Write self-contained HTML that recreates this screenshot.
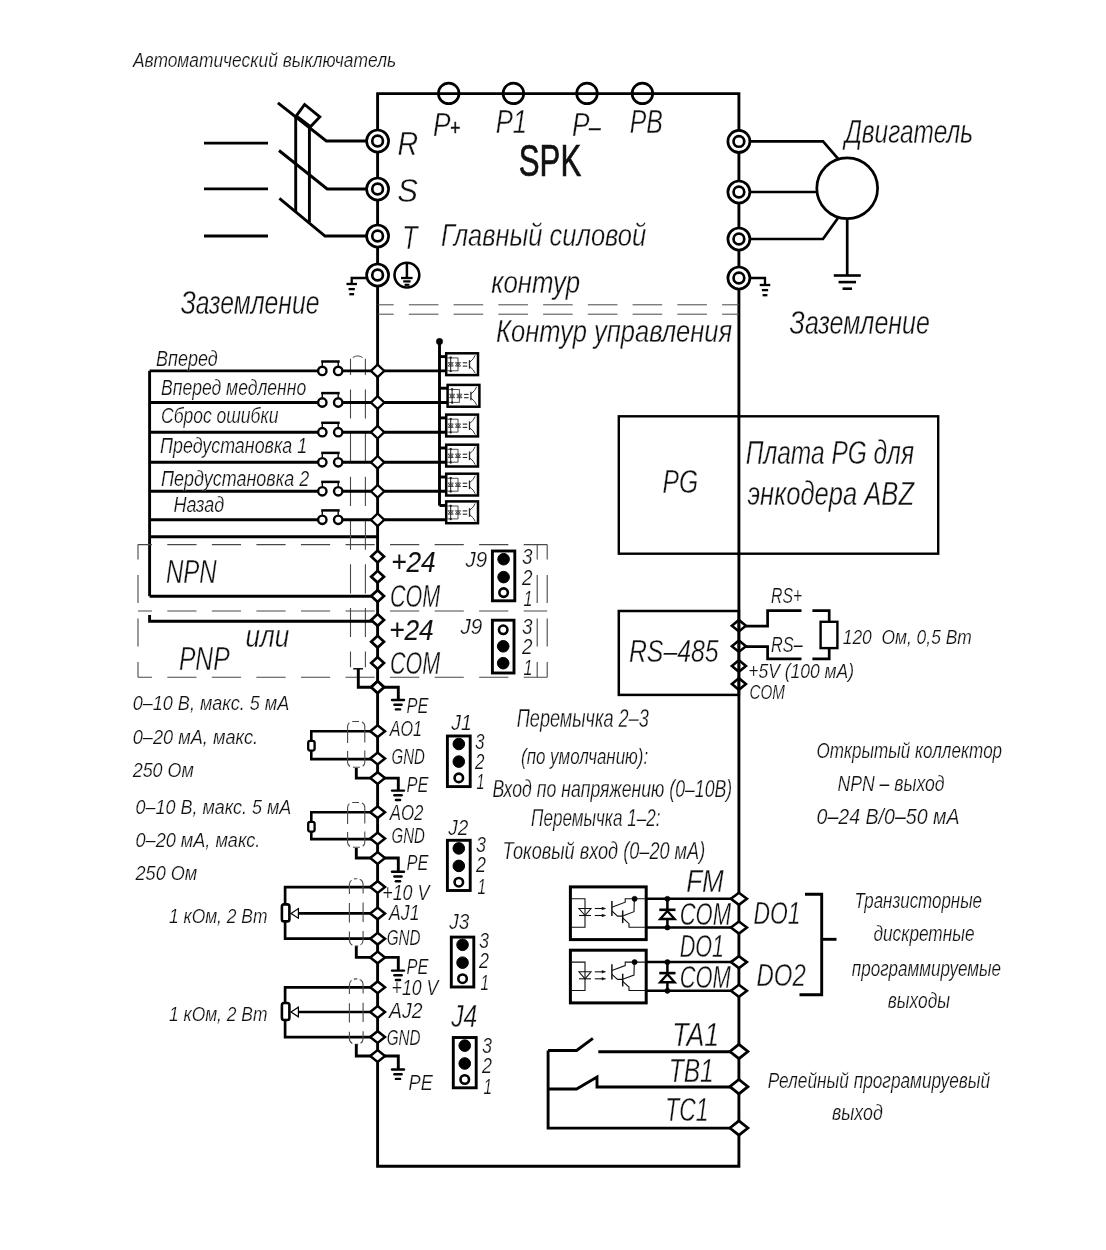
<!DOCTYPE html>
<html lang="ru"><head><meta charset="utf-8"><title>SPK</title>
<style>
html,body{margin:0;padding:0;background:#fff;}
svg{display:block;filter:grayscale(1)}
svg text{font-family:"Liberation Sans",sans-serif;font-style:italic;fill:#111;}
</style></head><body>
<svg width="1106" height="1250" viewBox="0 0 1106 1250">
<rect width="1106" height="1250" fill="#fff"/>
<polygon points="377.6,1166.2 377.6,93.6 738.9,93.6 738.9,1166.2" fill="none" stroke="#000" stroke-width="2.9" />
<circle cx="448.7" cy="93.39999999999999" r="10.3" fill="none" stroke="#000" stroke-width="2.7"/>
<circle cx="513.4" cy="93.39999999999999" r="10.3" fill="none" stroke="#000" stroke-width="2.7"/>
<circle cx="587" cy="93.39999999999999" r="10.3" fill="none" stroke="#000" stroke-width="2.7"/>
<circle cx="642.4" cy="93.39999999999999" r="10.3" fill="none" stroke="#000" stroke-width="2.7"/>
<text x="433.1" y="136" font-size="32.3" textLength="17.5" lengthAdjust="spacingAndGlyphs" stroke="#fff" stroke-width="0.36">P</text>
<text x="449.9" y="134.6" font-size="21.2" textLength="10.1" lengthAdjust="spacingAndGlyphs" stroke="#111" stroke-width="0.5">+</text>
<text x="495.8" y="133.3" font-size="32.3" textLength="31.3" lengthAdjust="spacingAndGlyphs" stroke="#fff" stroke-width="0.36">P1</text>
<text x="571.9" y="136" font-size="32.3" textLength="17.5" lengthAdjust="spacingAndGlyphs" stroke="#fff" stroke-width="0.36">P</text>
<text x="589" y="134.8" font-size="23.9" textLength="11.5" lengthAdjust="spacingAndGlyphs" stroke="#111" stroke-width="0.5">–</text>
<text x="629.7" y="133.3" font-size="32.3" textLength="33.1" lengthAdjust="spacingAndGlyphs" stroke="#fff" stroke-width="0.36">PB</text>
<text x="518.8" y="175.6" font-size="44" textLength="62.4" lengthAdjust="spacingAndGlyphs" stroke="#111" stroke-width="0.7" style="font-style:normal">SPK</text>
<circle cx="377.6" cy="141" r="11.0" fill="#fff" stroke="#000" stroke-width="2.7"/>
<circle cx="377.6" cy="141" r="5.35" fill="#fff" stroke="#000" stroke-width="2.7"/>
<circle cx="377.6" cy="189" r="11.0" fill="#fff" stroke="#000" stroke-width="2.7"/>
<circle cx="377.6" cy="189" r="5.35" fill="#fff" stroke="#000" stroke-width="2.7"/>
<circle cx="377.6" cy="236" r="11.0" fill="#fff" stroke="#000" stroke-width="2.7"/>
<circle cx="377.6" cy="236" r="5.35" fill="#fff" stroke="#000" stroke-width="2.7"/>
<circle cx="377.6" cy="275" r="11.0" fill="#fff" stroke="#000" stroke-width="2.7"/>
<circle cx="377.6" cy="275" r="5.35" fill="#fff" stroke="#000" stroke-width="2.7"/>
<text x="397.4" y="155" font-size="32.9" textLength="20.6" lengthAdjust="spacingAndGlyphs" stroke="#fff" stroke-width="0.36">R</text>
<text x="397.3" y="202" font-size="32.9" textLength="20.7" lengthAdjust="spacingAndGlyphs" stroke="#fff" stroke-width="0.36">S</text>
<text x="402.2" y="248.5" font-size="32.9" textLength="15.2" lengthAdjust="spacingAndGlyphs" stroke="#fff" stroke-width="0.36">T</text>
<line x1="204" y1="143.1" x2="268" y2="143.1" stroke="#000" stroke-width="2.9" />
<line x1="204" y1="188.9" x2="268" y2="188.9" stroke="#000" stroke-width="2.9" />
<line x1="204" y1="236" x2="268" y2="236" stroke="#000" stroke-width="2.9" />
<polyline points="366,141 326.3,141 277.9,102.8" fill="none" stroke="#000" stroke-width="2.9" />
<polyline points="366,189 327.2,189 279,150.5" fill="none" stroke="#000" stroke-width="2.9" />
<polyline points="366,236 325,236 279.4,198.3" fill="none" stroke="#000" stroke-width="2.9" />
<line x1="295.7" y1="115.8" x2="295.7" y2="211.3" stroke="#000" stroke-width="2.9" />
<line x1="309.4" y1="126.7" x2="309.4" y2="222.1" stroke="#000" stroke-width="2.9" />
<polygon points="296.3,115.8 304.6,104.5 319.8,116.9 310.4,126.7" fill="none" stroke="#000" stroke-width="2.9" />
<circle cx="406.9" cy="275.1" r="12.4" fill="#fff" stroke="#000" stroke-width="2.6"/>
<line x1="406.9" y1="262.5" x2="406.9" y2="278" stroke="#000" stroke-width="2.5" />
<line x1="401" y1="278" x2="412.6" y2="278" stroke="#000" stroke-width="2.3" />
<line x1="403.2" y1="281.4" x2="410.6" y2="281.4" stroke="#000" stroke-width="2.2" />
<line x1="404.6" y1="284.8" x2="409.4" y2="284.8" stroke="#000" stroke-width="2.2" />
<polyline points="366,278 351.7,278 351.7,284" fill="none" stroke="#000" stroke-width="2.3" />
<line x1="346.45" y1="284.0" x2="356.95" y2="284.0" stroke="#000" stroke-width="2.3" />
<line x1="348.55" y1="289.1" x2="354.84999999999997" y2="289.1" stroke="#000" stroke-width="2.3" />
<line x1="349.3" y1="294.2" x2="354.09999999999997" y2="294.2" stroke="#000" stroke-width="2.3" />
<text x="180.7" y="313.7" font-size="33.1" textLength="138.7" lengthAdjust="spacingAndGlyphs" stroke="#fff" stroke-width="0.36">Заземление</text>
<text x="132.9" y="67.1" font-size="21.0" textLength="263.2" lengthAdjust="spacingAndGlyphs" stroke="#fff" stroke-width="0.23">Автоматический выключатель</text>
<circle cx="738.9" cy="141.4" r="11.0" fill="#fff" stroke="#000" stroke-width="2.7"/>
<circle cx="738.9" cy="141.4" r="5.35" fill="#fff" stroke="#000" stroke-width="2.7"/>
<circle cx="738.9" cy="192" r="11.0" fill="#fff" stroke="#000" stroke-width="2.7"/>
<circle cx="738.9" cy="192" r="5.35" fill="#fff" stroke="#000" stroke-width="2.7"/>
<circle cx="738.9" cy="239" r="11.0" fill="#fff" stroke="#000" stroke-width="2.7"/>
<circle cx="738.9" cy="239" r="5.35" fill="#fff" stroke="#000" stroke-width="2.7"/>
<circle cx="738.9" cy="278" r="11.0" fill="#fff" stroke="#000" stroke-width="2.7"/>
<circle cx="738.9" cy="278" r="5.35" fill="#fff" stroke="#000" stroke-width="2.7"/>
<circle cx="847.2" cy="188.2" r="30.4" fill="#fff" stroke="#000" stroke-width="2.7"/>
<polyline points="751,141.4 823,141.4 838,158.6" fill="none" stroke="#000" stroke-width="2.7" />
<line x1="751" y1="192" x2="816.5" y2="192" stroke="#000" stroke-width="2.7" />
<polyline points="751,239 823,239 838,218" fill="none" stroke="#000" stroke-width="2.7" />
<line x1="847.2" y1="219" x2="847.2" y2="275.5" stroke="#000" stroke-width="2.7" />
<line x1="833.8" y1="275.5" x2="860.8" y2="275.5" stroke="#000" stroke-width="2.6" />
<line x1="838.55" y1="282.1" x2="856.05" y2="282.1" stroke="#000" stroke-width="2.6" />
<line x1="842.55" y1="288.7" x2="852.05" y2="288.7" stroke="#000" stroke-width="2.6" />
<polyline points="751,278 765,278 765,285" fill="none" stroke="#000" stroke-width="2.3" />
<line x1="759.75" y1="285.0" x2="770.25" y2="285.0" stroke="#000" stroke-width="2.3" />
<line x1="761.85" y1="290.1" x2="768.15" y2="290.1" stroke="#000" stroke-width="2.3" />
<line x1="762.6" y1="295.2" x2="767.4" y2="295.2" stroke="#000" stroke-width="2.3" />
<text x="844.7" y="142.5" font-size="32.6" textLength="128.5" lengthAdjust="spacingAndGlyphs" stroke="#fff" stroke-width="0.36">Двигатель</text>
<text x="789.6" y="333.7" font-size="33.1" textLength="140.2" lengthAdjust="spacingAndGlyphs" stroke="#fff" stroke-width="0.36">Заземление</text>
<text x="440.9" y="246" font-size="31.5" textLength="205.3" lengthAdjust="spacingAndGlyphs" stroke="#fff" stroke-width="0.35">Главный силовой</text>
<text x="491.2" y="293" font-size="31.5" textLength="89.0" lengthAdjust="spacingAndGlyphs" stroke="#fff" stroke-width="0.35">контур</text>
<text x="495.9" y="342" font-size="31.5" textLength="236.3" lengthAdjust="spacingAndGlyphs" stroke="#fff" stroke-width="0.35">Контур управления</text>
<line x1="377.6" y1="304.8" x2="738.9" y2="304.8" stroke="#484848" stroke-width="1" stroke-dasharray="29.6 15.15" stroke-dashoffset="13.5"/>
<line x1="377.6" y1="314.2" x2="738.9" y2="314.2" stroke="#484848" stroke-width="1" stroke-dasharray="29.6 15.15" stroke-dashoffset="13.5"/>
<line x1="149.6" y1="370.9" x2="149.6" y2="596.2" stroke="#000" stroke-width="2.9" />
<line x1="149.6" y1="536.7" x2="377.6" y2="536.7" stroke="#000" stroke-width="2.9" />
<line x1="350.5" y1="358.7" x2="350.5" y2="667.2" stroke="#484848" stroke-width="1.1" stroke-dasharray="29.2 14.5" stroke-dashoffset="13"/>
<line x1="365.4" y1="358.7" x2="365.4" y2="667.2" stroke="#484848" stroke-width="1.1" stroke-dasharray="29.2 14.5" stroke-dashoffset="13"/>
<path d="M352.8,357.6 Q357.7,354.2 362.6,357.6" fill="none" stroke="#484848" stroke-width="1"/>
<line x1="439.5" y1="341.5" x2="439.5" y2="505.6" stroke="#000" stroke-width="2.9" />
<circle cx="439.5" cy="341.5" r="3.2" fill="#000" stroke="#000" stroke-width="0.5"/>
<line x1="149.6" y1="370.9" x2="318" y2="370.9" stroke="#000" stroke-width="2.9" />
<line x1="343" y1="370.9" x2="377.6" y2="370.9" stroke="#000" stroke-width="2.9" />
<line x1="377.6" y1="370.9" x2="446.2" y2="370.9" stroke="#000" stroke-width="2.9" />
<line x1="439.5" y1="356.59999999999997" x2="446.2" y2="356.59999999999997" stroke="#000" stroke-width="2.9" />
<rect x="446.2" y="353.29999999999995" width="31.8" height="21.8" fill="#fff" stroke="#000" stroke-width="2.5" />
<line x1="447.2" y1="357.9" x2="458.2" y2="357.9" stroke="#222" stroke-width="0.8" />
<line x1="447.2" y1="370.79999999999995" x2="458.2" y2="370.79999999999995" stroke="#222" stroke-width="0.8" />
<line x1="450.7" y1="356.9" x2="450.7" y2="371.79999999999995" stroke="#222" stroke-width="1" />
<line x1="458.0" y1="357.9" x2="458.0" y2="370.79999999999995" stroke="#222" stroke-width="0.8" />
<circle cx="450.7" cy="357.69999999999993" r="1.1" fill="#222" stroke="#222" stroke-width="0.2"/>
<circle cx="450.7" cy="370.99999999999994" r="1.1" fill="#222" stroke="#222" stroke-width="0.2"/>
<polygon points="448.09999999999997,362.59999999999997 453.3,362.59999999999997 450.7,365.9" fill="none" stroke="#222" stroke-width="0.7" />
<line x1="448.09999999999997" y1="366.09999999999997" x2="453.3" y2="366.09999999999997" stroke="#222" stroke-width="0.8" />
<polyline points="448.09999999999997,366.09999999999997 450.7,362.9 453.3,366.09999999999997" fill="none" stroke="#222" stroke-width="0.7" />
<polygon points="455.4,362.59999999999997 460.6,362.59999999999997 458.0,365.9" fill="none" stroke="#222" stroke-width="0.7" />
<line x1="455.4" y1="366.09999999999997" x2="460.6" y2="366.09999999999997" stroke="#222" stroke-width="0.8" />
<polyline points="455.4,366.09999999999997 458.0,362.9 460.6,366.09999999999997" fill="none" stroke="#222" stroke-width="0.7" />
<line x1="462.7" y1="362.79999999999995" x2="467.2" y2="362.79999999999995" stroke="#222" stroke-width="1.1" />
<line x1="462.7" y1="366.09999999999997" x2="467.2" y2="366.09999999999997" stroke="#222" stroke-width="1.1" />
<line x1="469.5" y1="360.09999999999997" x2="469.5" y2="368.69999999999993" stroke="#222" stroke-width="1.3" />
<polyline points="469.5,362.49999999999994 473.2,358.79999999999995 475.2,355.29999999999995" fill="none" stroke="#222" stroke-width="0.9" />
<polyline points="469.5,366.29999999999995 473.2,369.79999999999995 475.2,373.29999999999995" fill="none" stroke="#222" stroke-width="0.9" />
<polygon points="370.90000000000003,370.9 377.6,364.59999999999997 384.3,370.9 377.6,377.2" fill="#fff" stroke="#000" stroke-width="2.3" />
<circle cx="322.3" cy="370.9" r="4.2" fill="#fff" stroke="#000" stroke-width="2.4"/>
<circle cx="338.2" cy="370.9" r="4.2" fill="#fff" stroke="#000" stroke-width="2.4"/>
<line x1="321.2" y1="361.5" x2="339.7" y2="361.5" stroke="#000" stroke-width="2.5" />
<line x1="322.3" y1="361.5" x2="322.3" y2="365.9" stroke="#000" stroke-width="1.4" />
<line x1="338.2" y1="361.5" x2="338.2" y2="365.9" stroke="#000" stroke-width="1.4" />
<line x1="149.6" y1="402.5" x2="318" y2="402.5" stroke="#000" stroke-width="2.9" />
<line x1="343" y1="402.5" x2="377.6" y2="402.5" stroke="#000" stroke-width="2.9" />
<line x1="377.6" y1="402.5" x2="447.6" y2="402.5" stroke="#000" stroke-width="2.9" />
<line x1="439.5" y1="388.2" x2="447.6" y2="388.2" stroke="#000" stroke-width="2.9" />
<rect x="447.6" y="384.9" width="31.8" height="21.8" fill="#fff" stroke="#000" stroke-width="2.5" />
<line x1="448.6" y1="389.5" x2="459.6" y2="389.5" stroke="#222" stroke-width="0.8" />
<line x1="448.6" y1="402.4" x2="459.6" y2="402.4" stroke="#222" stroke-width="0.8" />
<line x1="452.1" y1="388.5" x2="452.1" y2="403.4" stroke="#222" stroke-width="1" />
<line x1="459.40000000000003" y1="389.5" x2="459.40000000000003" y2="402.4" stroke="#222" stroke-width="0.8" />
<circle cx="452.1" cy="389.29999999999995" r="1.1" fill="#222" stroke="#222" stroke-width="0.2"/>
<circle cx="452.1" cy="402.59999999999997" r="1.1" fill="#222" stroke="#222" stroke-width="0.2"/>
<polygon points="449.5,394.2 454.70000000000005,394.2 452.1,397.5" fill="none" stroke="#222" stroke-width="0.7" />
<line x1="449.5" y1="397.7" x2="454.70000000000005" y2="397.7" stroke="#222" stroke-width="0.8" />
<polyline points="449.5,397.7 452.1,394.5 454.70000000000005,397.7" fill="none" stroke="#222" stroke-width="0.7" />
<polygon points="456.8,394.2 462.00000000000006,394.2 459.40000000000003,397.5" fill="none" stroke="#222" stroke-width="0.7" />
<line x1="456.8" y1="397.7" x2="462.00000000000006" y2="397.7" stroke="#222" stroke-width="0.8" />
<polyline points="456.8,397.7 459.40000000000003,394.5 462.00000000000006,397.7" fill="none" stroke="#222" stroke-width="0.7" />
<line x1="464.1" y1="394.4" x2="468.6" y2="394.4" stroke="#222" stroke-width="1.1" />
<line x1="464.1" y1="397.7" x2="468.6" y2="397.7" stroke="#222" stroke-width="1.1" />
<line x1="470.90000000000003" y1="391.7" x2="470.90000000000003" y2="400.29999999999995" stroke="#222" stroke-width="1.3" />
<polyline points="470.90000000000003,394.09999999999997 474.6,390.4 476.6,386.9" fill="none" stroke="#222" stroke-width="0.9" />
<polyline points="470.90000000000003,397.9 474.6,401.4 476.6,404.9" fill="none" stroke="#222" stroke-width="0.9" />
<polygon points="370.90000000000003,402.5 377.6,396.2 384.3,402.5 377.6,408.8" fill="#fff" stroke="#000" stroke-width="2.3" />
<circle cx="322.3" cy="402.5" r="4.2" fill="#fff" stroke="#000" stroke-width="2.4"/>
<circle cx="338.2" cy="402.5" r="4.2" fill="#fff" stroke="#000" stroke-width="2.4"/>
<line x1="321.2" y1="393.1" x2="339.7" y2="393.1" stroke="#000" stroke-width="2.5" />
<line x1="322.3" y1="393.1" x2="322.3" y2="397.5" stroke="#000" stroke-width="1.4" />
<line x1="338.2" y1="393.1" x2="338.2" y2="397.5" stroke="#000" stroke-width="1.4" />
<line x1="149.6" y1="432.2" x2="318" y2="432.2" stroke="#000" stroke-width="2.9" />
<line x1="343" y1="432.2" x2="377.6" y2="432.2" stroke="#000" stroke-width="2.9" />
<line x1="377.6" y1="432.2" x2="446.2" y2="432.2" stroke="#000" stroke-width="2.9" />
<line x1="439.5" y1="417.9" x2="446.2" y2="417.9" stroke="#000" stroke-width="2.9" />
<rect x="446.2" y="414.59999999999997" width="31.8" height="21.8" fill="#fff" stroke="#000" stroke-width="2.5" />
<line x1="447.2" y1="419.2" x2="458.2" y2="419.2" stroke="#222" stroke-width="0.8" />
<line x1="447.2" y1="432.09999999999997" x2="458.2" y2="432.09999999999997" stroke="#222" stroke-width="0.8" />
<line x1="450.7" y1="418.2" x2="450.7" y2="433.09999999999997" stroke="#222" stroke-width="1" />
<line x1="458.0" y1="419.2" x2="458.0" y2="432.09999999999997" stroke="#222" stroke-width="0.8" />
<circle cx="450.7" cy="418.99999999999994" r="1.1" fill="#222" stroke="#222" stroke-width="0.2"/>
<circle cx="450.7" cy="432.29999999999995" r="1.1" fill="#222" stroke="#222" stroke-width="0.2"/>
<polygon points="448.09999999999997,423.9 453.3,423.9 450.7,427.2" fill="none" stroke="#222" stroke-width="0.7" />
<line x1="448.09999999999997" y1="427.4" x2="453.3" y2="427.4" stroke="#222" stroke-width="0.8" />
<polyline points="448.09999999999997,427.4 450.7,424.2 453.3,427.4" fill="none" stroke="#222" stroke-width="0.7" />
<polygon points="455.4,423.9 460.6,423.9 458.0,427.2" fill="none" stroke="#222" stroke-width="0.7" />
<line x1="455.4" y1="427.4" x2="460.6" y2="427.4" stroke="#222" stroke-width="0.8" />
<polyline points="455.4,427.4 458.0,424.2 460.6,427.4" fill="none" stroke="#222" stroke-width="0.7" />
<line x1="462.7" y1="424.09999999999997" x2="467.2" y2="424.09999999999997" stroke="#222" stroke-width="1.1" />
<line x1="462.7" y1="427.4" x2="467.2" y2="427.4" stroke="#222" stroke-width="1.1" />
<line x1="469.5" y1="421.4" x2="469.5" y2="429.99999999999994" stroke="#222" stroke-width="1.3" />
<polyline points="469.5,423.79999999999995 473.2,420.09999999999997 475.2,416.59999999999997" fill="none" stroke="#222" stroke-width="0.9" />
<polyline points="469.5,427.59999999999997 473.2,431.09999999999997 475.2,434.59999999999997" fill="none" stroke="#222" stroke-width="0.9" />
<polygon points="370.90000000000003,432.2 377.6,425.9 384.3,432.2 377.6,438.5" fill="#fff" stroke="#000" stroke-width="2.3" />
<circle cx="322.3" cy="432.2" r="4.2" fill="#fff" stroke="#000" stroke-width="2.4"/>
<circle cx="338.2" cy="432.2" r="4.2" fill="#fff" stroke="#000" stroke-width="2.4"/>
<line x1="321.2" y1="422.8" x2="339.7" y2="422.8" stroke="#000" stroke-width="2.5" />
<line x1="322.3" y1="422.8" x2="322.3" y2="427.2" stroke="#000" stroke-width="1.4" />
<line x1="338.2" y1="422.8" x2="338.2" y2="427.2" stroke="#000" stroke-width="1.4" />
<line x1="149.6" y1="462.3" x2="318" y2="462.3" stroke="#000" stroke-width="2.9" />
<line x1="343" y1="462.3" x2="377.6" y2="462.3" stroke="#000" stroke-width="2.9" />
<line x1="377.6" y1="462.3" x2="446.2" y2="462.3" stroke="#000" stroke-width="2.9" />
<line x1="439.5" y1="448.0" x2="446.2" y2="448.0" stroke="#000" stroke-width="2.9" />
<rect x="446.2" y="444.7" width="31.8" height="21.8" fill="#fff" stroke="#000" stroke-width="2.5" />
<line x1="447.2" y1="449.3" x2="458.2" y2="449.3" stroke="#222" stroke-width="0.8" />
<line x1="447.2" y1="462.2" x2="458.2" y2="462.2" stroke="#222" stroke-width="0.8" />
<line x1="450.7" y1="448.3" x2="450.7" y2="463.2" stroke="#222" stroke-width="1" />
<line x1="458.0" y1="449.3" x2="458.0" y2="462.2" stroke="#222" stroke-width="0.8" />
<circle cx="450.7" cy="449.09999999999997" r="1.1" fill="#222" stroke="#222" stroke-width="0.2"/>
<circle cx="450.7" cy="462.4" r="1.1" fill="#222" stroke="#222" stroke-width="0.2"/>
<polygon points="448.09999999999997,454.0 453.3,454.0 450.7,457.3" fill="none" stroke="#222" stroke-width="0.7" />
<line x1="448.09999999999997" y1="457.5" x2="453.3" y2="457.5" stroke="#222" stroke-width="0.8" />
<polyline points="448.09999999999997,457.5 450.7,454.3 453.3,457.5" fill="none" stroke="#222" stroke-width="0.7" />
<polygon points="455.4,454.0 460.6,454.0 458.0,457.3" fill="none" stroke="#222" stroke-width="0.7" />
<line x1="455.4" y1="457.5" x2="460.6" y2="457.5" stroke="#222" stroke-width="0.8" />
<polyline points="455.4,457.5 458.0,454.3 460.6,457.5" fill="none" stroke="#222" stroke-width="0.7" />
<line x1="462.7" y1="454.2" x2="467.2" y2="454.2" stroke="#222" stroke-width="1.1" />
<line x1="462.7" y1="457.5" x2="467.2" y2="457.5" stroke="#222" stroke-width="1.1" />
<line x1="469.5" y1="451.5" x2="469.5" y2="460.09999999999997" stroke="#222" stroke-width="1.3" />
<polyline points="469.5,453.9 473.2,450.2 475.2,446.7" fill="none" stroke="#222" stroke-width="0.9" />
<polyline points="469.5,457.7 473.2,461.2 475.2,464.7" fill="none" stroke="#222" stroke-width="0.9" />
<polygon points="370.90000000000003,462.3 377.6,456.0 384.3,462.3 377.6,468.6" fill="#fff" stroke="#000" stroke-width="2.3" />
<circle cx="322.3" cy="462.3" r="4.2" fill="#fff" stroke="#000" stroke-width="2.4"/>
<circle cx="338.2" cy="462.3" r="4.2" fill="#fff" stroke="#000" stroke-width="2.4"/>
<line x1="321.2" y1="452.90000000000003" x2="339.7" y2="452.90000000000003" stroke="#000" stroke-width="2.5" />
<line x1="322.3" y1="452.90000000000003" x2="322.3" y2="457.3" stroke="#000" stroke-width="1.4" />
<line x1="338.2" y1="452.90000000000003" x2="338.2" y2="457.3" stroke="#000" stroke-width="1.4" />
<line x1="149.6" y1="491.3" x2="318" y2="491.3" stroke="#000" stroke-width="2.9" />
<line x1="343" y1="491.3" x2="377.6" y2="491.3" stroke="#000" stroke-width="2.9" />
<line x1="377.6" y1="491.3" x2="446.2" y2="491.3" stroke="#000" stroke-width="2.9" />
<line x1="439.5" y1="477.0" x2="446.2" y2="477.0" stroke="#000" stroke-width="2.9" />
<rect x="446.2" y="473.7" width="31.8" height="21.8" fill="#fff" stroke="#000" stroke-width="2.5" />
<line x1="447.2" y1="478.3" x2="458.2" y2="478.3" stroke="#222" stroke-width="0.8" />
<line x1="447.2" y1="491.2" x2="458.2" y2="491.2" stroke="#222" stroke-width="0.8" />
<line x1="450.7" y1="477.3" x2="450.7" y2="492.2" stroke="#222" stroke-width="1" />
<line x1="458.0" y1="478.3" x2="458.0" y2="491.2" stroke="#222" stroke-width="0.8" />
<circle cx="450.7" cy="478.09999999999997" r="1.1" fill="#222" stroke="#222" stroke-width="0.2"/>
<circle cx="450.7" cy="491.4" r="1.1" fill="#222" stroke="#222" stroke-width="0.2"/>
<polygon points="448.09999999999997,483.0 453.3,483.0 450.7,486.3" fill="none" stroke="#222" stroke-width="0.7" />
<line x1="448.09999999999997" y1="486.5" x2="453.3" y2="486.5" stroke="#222" stroke-width="0.8" />
<polyline points="448.09999999999997,486.5 450.7,483.3 453.3,486.5" fill="none" stroke="#222" stroke-width="0.7" />
<polygon points="455.4,483.0 460.6,483.0 458.0,486.3" fill="none" stroke="#222" stroke-width="0.7" />
<line x1="455.4" y1="486.5" x2="460.6" y2="486.5" stroke="#222" stroke-width="0.8" />
<polyline points="455.4,486.5 458.0,483.3 460.6,486.5" fill="none" stroke="#222" stroke-width="0.7" />
<line x1="462.7" y1="483.2" x2="467.2" y2="483.2" stroke="#222" stroke-width="1.1" />
<line x1="462.7" y1="486.5" x2="467.2" y2="486.5" stroke="#222" stroke-width="1.1" />
<line x1="469.5" y1="480.5" x2="469.5" y2="489.09999999999997" stroke="#222" stroke-width="1.3" />
<polyline points="469.5,482.9 473.2,479.2 475.2,475.7" fill="none" stroke="#222" stroke-width="0.9" />
<polyline points="469.5,486.7 473.2,490.2 475.2,493.7" fill="none" stroke="#222" stroke-width="0.9" />
<polygon points="370.90000000000003,491.3 377.6,485.0 384.3,491.3 377.6,497.6" fill="#fff" stroke="#000" stroke-width="2.3" />
<circle cx="322.3" cy="491.3" r="4.2" fill="#fff" stroke="#000" stroke-width="2.4"/>
<circle cx="338.2" cy="491.3" r="4.2" fill="#fff" stroke="#000" stroke-width="2.4"/>
<line x1="321.2" y1="481.90000000000003" x2="339.7" y2="481.90000000000003" stroke="#000" stroke-width="2.5" />
<line x1="322.3" y1="481.90000000000003" x2="322.3" y2="486.3" stroke="#000" stroke-width="1.4" />
<line x1="338.2" y1="481.90000000000003" x2="338.2" y2="486.3" stroke="#000" stroke-width="1.4" />
<line x1="149.6" y1="519.8" x2="318" y2="519.8" stroke="#000" stroke-width="2.9" />
<line x1="343" y1="519.8" x2="377.6" y2="519.8" stroke="#000" stroke-width="2.9" />
<line x1="377.6" y1="519.8" x2="446.2" y2="519.8" stroke="#000" stroke-width="2.9" />
<line x1="439.5" y1="505.49999999999994" x2="446.2" y2="505.49999999999994" stroke="#000" stroke-width="2.9" />
<rect x="446.2" y="501.4" width="31.8" height="21.8" fill="#fff" stroke="#000" stroke-width="2.5" />
<line x1="447.2" y1="506.0" x2="458.2" y2="506.0" stroke="#222" stroke-width="0.8" />
<line x1="447.2" y1="518.9" x2="458.2" y2="518.9" stroke="#222" stroke-width="0.8" />
<line x1="450.7" y1="505.0" x2="450.7" y2="519.9" stroke="#222" stroke-width="1" />
<line x1="458.0" y1="506.0" x2="458.0" y2="518.9" stroke="#222" stroke-width="0.8" />
<circle cx="450.7" cy="505.79999999999995" r="1.1" fill="#222" stroke="#222" stroke-width="0.2"/>
<circle cx="450.7" cy="519.1" r="1.1" fill="#222" stroke="#222" stroke-width="0.2"/>
<polygon points="448.09999999999997,510.7 453.3,510.7 450.7,514.0" fill="none" stroke="#222" stroke-width="0.7" />
<line x1="448.09999999999997" y1="514.1999999999999" x2="453.3" y2="514.1999999999999" stroke="#222" stroke-width="0.8" />
<polyline points="448.09999999999997,514.1999999999999 450.7,511.0 453.3,514.1999999999999" fill="none" stroke="#222" stroke-width="0.7" />
<polygon points="455.4,510.7 460.6,510.7 458.0,514.0" fill="none" stroke="#222" stroke-width="0.7" />
<line x1="455.4" y1="514.1999999999999" x2="460.6" y2="514.1999999999999" stroke="#222" stroke-width="0.8" />
<polyline points="455.4,514.1999999999999 458.0,511.0 460.6,514.1999999999999" fill="none" stroke="#222" stroke-width="0.7" />
<line x1="462.7" y1="510.9" x2="467.2" y2="510.9" stroke="#222" stroke-width="1.1" />
<line x1="462.7" y1="514.1999999999999" x2="467.2" y2="514.1999999999999" stroke="#222" stroke-width="1.1" />
<line x1="469.5" y1="508.2" x2="469.5" y2="516.8" stroke="#222" stroke-width="1.3" />
<polyline points="469.5,510.59999999999997 473.2,506.9 475.2,503.4" fill="none" stroke="#222" stroke-width="0.9" />
<polyline points="469.5,514.4 473.2,517.9 475.2,521.4" fill="none" stroke="#222" stroke-width="0.9" />
<polygon points="370.90000000000003,519.8 377.6,513.5 384.3,519.8 377.6,526.0999999999999" fill="#fff" stroke="#000" stroke-width="2.3" />
<circle cx="322.3" cy="519.8" r="4.2" fill="#fff" stroke="#000" stroke-width="2.4"/>
<circle cx="338.2" cy="519.8" r="4.2" fill="#fff" stroke="#000" stroke-width="2.4"/>
<line x1="321.2" y1="510.4" x2="339.7" y2="510.4" stroke="#000" stroke-width="2.5" />
<line x1="322.3" y1="510.4" x2="322.3" y2="514.8" stroke="#000" stroke-width="1.4" />
<line x1="338.2" y1="510.4" x2="338.2" y2="514.8" stroke="#000" stroke-width="1.4" />
<text x="156.1" y="365.9" font-size="22.1" textLength="61.6" lengthAdjust="spacingAndGlyphs" stroke="#fff" stroke-width="0.24">Вперед</text>
<text x="161.0" y="394.7" font-size="22.1" textLength="145.2" lengthAdjust="spacingAndGlyphs" stroke="#fff" stroke-width="0.24">Вперед медленно</text>
<text x="161.0" y="423.2" font-size="22.1" textLength="117.4" lengthAdjust="spacingAndGlyphs" stroke="#fff" stroke-width="0.24">Сброс ошибки</text>
<text x="160.0" y="453.4" font-size="22.1" textLength="147.2" lengthAdjust="spacingAndGlyphs" stroke="#fff" stroke-width="0.24">Предустановка 1</text>
<text x="161.0" y="486.2" font-size="22.1" textLength="148.2" lengthAdjust="spacingAndGlyphs" stroke="#fff" stroke-width="0.24">Пердустановка 2</text>
<text x="173.4" y="511.5" font-size="22.1" textLength="50.8" lengthAdjust="spacingAndGlyphs" stroke="#fff" stroke-width="0.24">Назад</text>
<line x1="138" y1="544.6" x2="547.2" y2="544.6" stroke="#484848" stroke-width="1.1" stroke-dasharray="29.2 15.35" stroke-dashoffset="15.25"/>
<line x1="138" y1="611" x2="547.2" y2="611" stroke="#484848" stroke-width="1.1" stroke-dasharray="29.2 15.35" stroke-dashoffset="15.25"/>
<line x1="138" y1="677.3" x2="547.2" y2="677.3" stroke="#484848" stroke-width="1.1" stroke-dasharray="29.2 15.35" stroke-dashoffset="15.25"/>
<line x1="138" y1="544.6" x2="138" y2="677.3" stroke="#484848" stroke-width="1.1" stroke-dasharray="28 15.5" stroke-dashoffset="13"/>
<line x1="537.2" y1="544.6" x2="537.2" y2="677.3" stroke="#484848" stroke-width="1.1" stroke-dasharray="28 15.5" stroke-dashoffset="13"/>
<line x1="547.2" y1="544.6" x2="547.2" y2="677.3" stroke="#484848" stroke-width="1.1" stroke-dasharray="28 15.5" stroke-dashoffset="13"/>
<line x1="149.6" y1="596.2" x2="377.6" y2="596.2" stroke="#000" stroke-width="2.9" />
<polyline points="149.6,615 149.6,621.3 377.6,621.3" fill="none" stroke="#000" stroke-width="2.9" />
<polygon points="371.20000000000005,556.5 377.6,550.6 384.0,556.5 377.6,562.4" fill="#fff" stroke="#000" stroke-width="2.7" />
<polygon points="371.20000000000005,576.7 377.6,570.8000000000001 384.0,576.7 377.6,582.6" fill="#fff" stroke="#000" stroke-width="2.7" />
<polygon points="371.20000000000005,596.1 377.6,590.2 384.0,596.1 377.6,602.0" fill="#fff" stroke="#000" stroke-width="2.7" />
<polygon points="371.20000000000005,619.9 377.6,614.0 384.0,619.9 377.6,625.8" fill="#fff" stroke="#000" stroke-width="2.7" />
<polygon points="371.20000000000005,641.7 377.6,635.8000000000001 384.0,641.7 377.6,647.6" fill="#fff" stroke="#000" stroke-width="2.7" />
<polygon points="371.20000000000005,663 377.6,657.1 384.0,663 377.6,668.9" fill="#fff" stroke="#000" stroke-width="2.7" />
<polygon points="371.20000000000005,687 377.6,681.1 384.0,687 377.6,692.9" fill="#fff" stroke="#000" stroke-width="2.7" />
<text x="165.9" y="583.3" font-size="32.9" textLength="50.8" lengthAdjust="spacingAndGlyphs" stroke="#fff" stroke-width="0.36">NPN</text>
<text x="178.9" y="670" font-size="32.9" textLength="50.7" lengthAdjust="spacingAndGlyphs" stroke="#fff" stroke-width="0.36">PNP</text>
<text x="245.5" y="646.7" font-size="30.5" textLength="43.7" lengthAdjust="spacingAndGlyphs" stroke="#fff" stroke-width="0.34">или</text>
<text x="391.2" y="571.7" font-size="29.7" textLength="44.5" lengthAdjust="spacingAndGlyphs" stroke="#111" stroke-width="0.12">+24</text>
<text x="389.9" y="607" font-size="31.8" textLength="50.3" lengthAdjust="spacingAndGlyphs" stroke="#fff" stroke-width="0.35">COM</text>
<text x="389.2" y="640.3" font-size="29.7" textLength="44.5" lengthAdjust="spacingAndGlyphs" stroke="#111" stroke-width="0.12">+24</text>
<text x="389.9" y="674.2" font-size="31.8" textLength="50.3" lengthAdjust="spacingAndGlyphs" stroke="#fff" stroke-width="0.35">COM</text>
<rect x="492.4" y="551" width="22.4" height="49.8" fill="#fff" stroke="#000" stroke-width="2.9" />
<circle cx="503.59999999999997" cy="559.2" r="5.8" fill="#000" stroke="#000" stroke-width="1"/>
<circle cx="503.59999999999997" cy="577.1" r="5.8" fill="#000" stroke="#000" stroke-width="1"/>
<circle cx="503.59999999999997" cy="592.6" r="4.25" fill="#fff" stroke="#000" stroke-width="2.6"/>
<text x="465.5" y="567.3" font-size="21.2" textLength="21.7" lengthAdjust="spacingAndGlyphs" stroke="#fff" stroke-width="0.23">J9</text>
<text x="522" y="564.2" font-size="21.2" textLength="10.5" lengthAdjust="spacingAndGlyphs" stroke="#fff" stroke-width="0.23">3</text>
<text x="522" y="584.6" font-size="21.2" textLength="10.5" lengthAdjust="spacingAndGlyphs" stroke="#fff" stroke-width="0.23">2</text>
<text x="523.5" y="605.5" font-size="21.2" textLength="9.0" lengthAdjust="spacingAndGlyphs" stroke="#fff" stroke-width="0.23">1</text>
<rect x="492.4" y="620.2" width="21.6" height="52.8" fill="#fff" stroke="#000" stroke-width="2.9" />
<circle cx="503.2" cy="629.8" r="4.25" fill="#fff" stroke="#000" stroke-width="2.6"/>
<circle cx="503.2" cy="646.3" r="5.8" fill="#000" stroke="#000" stroke-width="1"/>
<circle cx="503.2" cy="663.2" r="5.8" fill="#000" stroke="#000" stroke-width="1"/>
<text x="460.5" y="633.8" font-size="21.2" textLength="21.9" lengthAdjust="spacingAndGlyphs" stroke="#fff" stroke-width="0.23">J9</text>
<text x="522" y="633.8" font-size="21.2" textLength="10.5" lengthAdjust="spacingAndGlyphs" stroke="#fff" stroke-width="0.23">3</text>
<text x="522" y="653.7" font-size="21.2" textLength="10.5" lengthAdjust="spacingAndGlyphs" stroke="#fff" stroke-width="0.23">2</text>
<text x="523.5" y="675.2" font-size="21.2" textLength="9.0" lengthAdjust="spacingAndGlyphs" stroke="#fff" stroke-width="0.23">1</text>
<polyline points="358.3,668.8 358.3,687.2 377.6,687.2" fill="none" stroke="#000" stroke-width="2.9" />
<polyline points="377.6,687.2 398.3,687.2 398.3,700" fill="none" stroke="#000" stroke-width="2.9" />
<line x1="392.0" y1="700.0" x2="404.0" y2="700.0" stroke="#000" stroke-width="2.4" stroke-linecap="round"/>
<line x1="394.4" y1="704.7" x2="401.6" y2="704.7" stroke="#000" stroke-width="2.4" stroke-linecap="round"/>
<line x1="395.9" y1="709.4" x2="400.1" y2="709.4" stroke="#000" stroke-width="2.4" stroke-linecap="round"/>
<text x="406.6" y="712.6" font-size="21.2" textLength="21.9" lengthAdjust="spacingAndGlyphs" stroke="#fff" stroke-width="0.23">PE</text>
<line x1="353.2" y1="668.8" x2="363" y2="668.8" stroke="#000" stroke-width="1.4" />
<polygon points="371.20000000000005,687.2 377.6,681.3000000000001 384.0,687.2 377.6,693.1" fill="#fff" stroke="#000" stroke-width="2.7" />
<polyline points="377.6,731.2 311.3,731.2 311.3,759.1 377.6,759.1" fill="none" stroke="#000" stroke-width="2.6" />
<rect x="308.2" y="740.8000000000001" width="6.4" height="9.8" fill="#fff" stroke="#000" stroke-width="2.3" rx="2"/>
<path d="M347.6,726.5 V762.2 A5,5 0 0 0 352.6,767.2 H359.8 A5,5 0 0 0 364.8,762.2 V726.5 A5,5 0 0 0 359.8,721.5 H352.6 A5,5 0 0 0 347.6,726.5" fill="none" stroke="#484848" stroke-width="1.1" stroke-dasharray="16.4 8.1 16.2 3 6.91 3 16.2 8.1 21.4 3 6.91 3 5"/>
<polyline points="356.3,768.0 356.3,778.1 377.6,778.1" fill="none" stroke="#000" stroke-width="2.9" />
<polyline points="377.6,778.1 398.3,778.1 398.3,790.6" fill="none" stroke="#000" stroke-width="2.9" />
<line x1="392.0" y1="790.6" x2="404.0" y2="790.6" stroke="#000" stroke-width="2.4" stroke-linecap="round"/>
<line x1="394.4" y1="795.3000000000001" x2="401.6" y2="795.3000000000001" stroke="#000" stroke-width="2.4" stroke-linecap="round"/>
<line x1="395.9" y1="800.0" x2="400.1" y2="800.0" stroke="#000" stroke-width="2.4" stroke-linecap="round"/>
<text x="406.6" y="791.8" font-size="21.2" textLength="21.9" lengthAdjust="spacingAndGlyphs" stroke="#fff" stroke-width="0.23">PE</text>
<polygon points="370.20000000000005,731.2 377.6,725.3000000000001 385.0,731.2 377.6,737.1" fill="#fff" stroke="#000" stroke-width="2.5" />
<polygon points="370.20000000000005,758.5 377.6,752.6 385.0,758.5 377.6,764.4" fill="#fff" stroke="#000" stroke-width="2.5" />
<polygon points="370.20000000000005,778.1 377.6,772.2 385.0,778.1 377.6,784.0" fill="#fff" stroke="#000" stroke-width="2.5" />
<text x="389.7" y="736.3" font-size="21.2" textLength="32.4" lengthAdjust="spacingAndGlyphs" stroke="#fff" stroke-width="0.23">AO1</text>
<text x="391.6" y="763.5" font-size="21.2" textLength="33.3" lengthAdjust="spacingAndGlyphs" stroke="#fff" stroke-width="0.23">GND</text>
<polyline points="377.6,812.2 311.3,812.2 311.3,839.1 377.6,839.1" fill="none" stroke="#000" stroke-width="2.6" />
<rect x="308.2" y="821.8000000000001" width="6.4" height="9.8" fill="#fff" stroke="#000" stroke-width="2.3" rx="2"/>
<path d="M347.6,807.5 V842.2 A5,5 0 0 0 352.6,847.2 H359.8 A5,5 0 0 0 364.8,842.2 V807.5 A5,5 0 0 0 359.8,802.5 H352.6 A5,5 0 0 0 347.6,807.5" fill="none" stroke="#484848" stroke-width="1.1" stroke-dasharray="16.4 8.1 15.2 3 6.91 3 15.2 8.1 21.4 3 6.91 3 5"/>
<polyline points="356.3,848.0 356.3,858 377.6,858" fill="none" stroke="#000" stroke-width="2.9" />
<polyline points="377.6,858 398.3,858 398.3,871.8" fill="none" stroke="#000" stroke-width="2.9" />
<line x1="392.0" y1="871.8" x2="404.0" y2="871.8" stroke="#000" stroke-width="2.4" stroke-linecap="round"/>
<line x1="394.4" y1="876.5" x2="401.6" y2="876.5" stroke="#000" stroke-width="2.4" stroke-linecap="round"/>
<line x1="395.9" y1="881.1999999999999" x2="400.1" y2="881.1999999999999" stroke="#000" stroke-width="2.4" stroke-linecap="round"/>
<text x="406.6" y="869.8" font-size="21.2" textLength="21.9" lengthAdjust="spacingAndGlyphs" stroke="#fff" stroke-width="0.23">PE</text>
<polygon points="370.20000000000005,812.2 377.6,806.3000000000001 385.0,812.2 377.6,818.1" fill="#fff" stroke="#000" stroke-width="2.5" />
<polygon points="370.20000000000005,838.5 377.6,832.6 385.0,838.5 377.6,844.4" fill="#fff" stroke="#000" stroke-width="2.5" />
<polygon points="370.20000000000005,858 377.6,852.1 385.0,858 377.6,863.9" fill="#fff" stroke="#000" stroke-width="2.5" />
<text x="389.7" y="819.8" font-size="21.2" textLength="33.8" lengthAdjust="spacingAndGlyphs" stroke="#fff" stroke-width="0.23">AO2</text>
<text x="391.6" y="842.7" font-size="21.2" textLength="33.3" lengthAdjust="spacingAndGlyphs" stroke="#fff" stroke-width="0.23">GND</text>
<text x="132.7" y="709.8" font-size="21.0" textLength="156.5" lengthAdjust="spacingAndGlyphs" stroke="#fff" stroke-width="0.23">0–10 В, макс. 5 мА</text>
<text x="132.7" y="743.7" font-size="21.0" textLength="125.4" lengthAdjust="spacingAndGlyphs" stroke="#fff" stroke-width="0.23">0–20 мА, макс.</text>
<text x="132.7" y="777" font-size="21.0" textLength="61.1" lengthAdjust="spacingAndGlyphs" stroke="#fff" stroke-width="0.23">250 Ом</text>
<text x="135.5" y="813.7" font-size="21.0" textLength="155.7" lengthAdjust="spacingAndGlyphs" stroke="#fff" stroke-width="0.23">0–10 В, макс. 5 мА</text>
<text x="135.5" y="847" font-size="21.0" textLength="124.9" lengthAdjust="spacingAndGlyphs" stroke="#fff" stroke-width="0.23">0–20 мА, макс.</text>
<text x="135.5" y="880.3" font-size="21.0" textLength="61.7" lengthAdjust="spacingAndGlyphs" stroke="#fff" stroke-width="0.23">250 Ом</text>
<polyline points="377.6,887.1 285.1,887.1 285.1,938.7 377.6,938.7" fill="none" stroke="#000" stroke-width="2.7" />
<rect x="281.9" y="904.4" width="7.5" height="17.0" fill="#fff" stroke="#000" stroke-width="2.6" rx="2.2"/>
<line x1="298" y1="913.4" x2="377.6" y2="913.4" stroke="#000" stroke-width="2.7" />
<polygon points="291,913.4 298.4,908.6 298.4,918.1999999999999" fill="#fff" stroke="#000" stroke-width="1.2" />
<path d="M349.4,884.7 V940.0 A6,6 0 0 0 355.4,946.0 H357.1 A6,6 0 0 0 363.1,940.0 V884.7 A6,6 0 0 0 357.1,878.7 H355.4 A6,6 0 0 0 349.4,884.7" fill="none" stroke="#484848" stroke-width="1.1" stroke-dasharray="9.2 9.1 19.4 9.1 14.5 2.5 3.55 2.5 14.5 9.1 19.4 9.1 15.2 2.5 3.55 2.5 6"/>
<polyline points="356.3,946.2 356.3,957.4 377.6,957.4" fill="none" stroke="#000" stroke-width="2.9" />
<polyline points="377.6,957.4 398.3,957.4 398.3,970.6" fill="none" stroke="#000" stroke-width="2.9" />
<line x1="392.0" y1="970.6" x2="404.0" y2="970.6" stroke="#000" stroke-width="2.4" stroke-linecap="round"/>
<line x1="394.4" y1="975.3000000000001" x2="401.6" y2="975.3000000000001" stroke="#000" stroke-width="2.4" stroke-linecap="round"/>
<line x1="395.9" y1="980.0" x2="400.1" y2="980.0" stroke="#000" stroke-width="2.4" stroke-linecap="round"/>
<text x="406.6" y="974.3" font-size="21.2" textLength="21.9" lengthAdjust="spacingAndGlyphs" stroke="#fff" stroke-width="0.23">PE</text>
<polygon points="370.20000000000005,887.1 377.6,881.2 385.0,887.1 377.6,893.0" fill="#fff" stroke="#000" stroke-width="2.5" />
<polygon points="370.20000000000005,913.4 377.6,907.5 385.0,913.4 377.6,919.3" fill="#fff" stroke="#000" stroke-width="2.5" />
<polygon points="370.20000000000005,938.7 377.6,932.8000000000001 385.0,938.7 377.6,944.6" fill="#fff" stroke="#000" stroke-width="2.5" />
<polygon points="370.20000000000005,957.4 377.6,951.5 385.0,957.4 377.6,963.3" fill="#fff" stroke="#000" stroke-width="2.5" />
<polyline points="377.6,987.3 285.1,987.3 285.1,1037.1 377.6,1037.1" fill="none" stroke="#000" stroke-width="2.7" />
<rect x="281.9" y="1003" width="7.5" height="17" fill="#fff" stroke="#000" stroke-width="2.6" rx="2.2"/>
<line x1="298" y1="1012" x2="377.6" y2="1012" stroke="#000" stroke-width="2.7" />
<polygon points="291,1012 298.4,1007.2 298.4,1016.8" fill="#fff" stroke="#000" stroke-width="1.2" />
<path d="M349.4,984.9 V1038.3999999999999 A6,6 0 0 0 355.4,1044.3999999999999 H357.1 A6,6 0 0 0 363.1,1038.3999999999999 V984.9 A6,6 0 0 0 357.1,978.9 H355.4 A6,6 0 0 0 349.4,984.9" fill="none" stroke="#484848" stroke-width="1.1" stroke-dasharray="9.2 9.1 19.4 9.1 12.7 2.5 3.55 2.5 12.7 9.1 19.4 9.1 15.2 2.5 3.55 2.5 6"/>
<polyline points="356.3,1044.6 356.3,1056 377.6,1056" fill="none" stroke="#000" stroke-width="2.9" />
<polyline points="377.6,1056 398.3,1056 398.3,1069.5" fill="none" stroke="#000" stroke-width="2.9" />
<line x1="392.0" y1="1069.5" x2="404.0" y2="1069.5" stroke="#000" stroke-width="2.4" stroke-linecap="round"/>
<line x1="394.4" y1="1074.2" x2="401.6" y2="1074.2" stroke="#000" stroke-width="2.4" stroke-linecap="round"/>
<line x1="395.9" y1="1078.9" x2="400.1" y2="1078.9" stroke="#000" stroke-width="2.4" stroke-linecap="round"/>
<text x="408.6" y="1089.8" font-size="21.2" textLength="24.2" lengthAdjust="spacingAndGlyphs" stroke="#fff" stroke-width="0.23">PE</text>
<polygon points="370.20000000000005,987.3 377.6,981.4 385.0,987.3 377.6,993.1999999999999" fill="#fff" stroke="#000" stroke-width="2.5" />
<polygon points="370.20000000000005,1012 377.6,1006.1 385.0,1012 377.6,1017.9" fill="#fff" stroke="#000" stroke-width="2.5" />
<polygon points="370.20000000000005,1037.1 377.6,1031.1999999999998 385.0,1037.1 377.6,1043.0" fill="#fff" stroke="#000" stroke-width="2.5" />
<polygon points="370.20000000000005,1056 377.6,1050.1 385.0,1056 377.6,1061.9" fill="#fff" stroke="#000" stroke-width="2.5" />
<text x="382.2" y="899.7" font-size="21.2" textLength="47.3" lengthAdjust="spacingAndGlyphs" stroke="#fff" stroke-width="0.23">+10 V</text>
<text x="389.1" y="919.6" font-size="21.2" textLength="30.4" lengthAdjust="spacingAndGlyphs" stroke="#fff" stroke-width="0.23">AJ1</text>
<text x="386.7" y="945" font-size="21.2" textLength="33.8" lengthAdjust="spacingAndGlyphs" stroke="#fff" stroke-width="0.23">GND</text>
<text x="391.6" y="995.3" font-size="21.2" textLength="46.8" lengthAdjust="spacingAndGlyphs" stroke="#fff" stroke-width="0.23">+10 V</text>
<text x="389.1" y="1017.5" font-size="21.2" textLength="33.4" lengthAdjust="spacingAndGlyphs" stroke="#fff" stroke-width="0.23">AJ2</text>
<text x="386.7" y="1045" font-size="21.2" textLength="33.8" lengthAdjust="spacingAndGlyphs" stroke="#fff" stroke-width="0.23">GND</text>
<text x="168.9" y="922.7" font-size="21.0" textLength="98.5" lengthAdjust="spacingAndGlyphs" stroke="#fff" stroke-width="0.23">1 кОм, 2 Вт</text>
<text x="168.9" y="1020.5" font-size="21.0" textLength="98.5" lengthAdjust="spacingAndGlyphs" stroke="#fff" stroke-width="0.23">1 кОм, 2 Вт</text>
<rect x="447.4" y="736" width="22.8" height="50.6" fill="#fff" stroke="#000" stroke-width="2.9" />
<circle cx="458.79999999999995" cy="744" r="5.8" fill="#000" stroke="#000" stroke-width="1"/>
<circle cx="458.79999999999995" cy="761.6" r="5.8" fill="#000" stroke="#000" stroke-width="1"/>
<circle cx="458.79999999999995" cy="777.9" r="4.25" fill="#fff" stroke="#000" stroke-width="2.6"/>
<text x="451.2" y="730.2" font-size="21.7" textLength="20.5" lengthAdjust="spacingAndGlyphs" stroke="#fff" stroke-width="0.24">J1</text>
<text x="475" y="748.6" font-size="21.2" textLength="9.5" lengthAdjust="spacingAndGlyphs" stroke="#fff" stroke-width="0.23">3</text>
<text x="475" y="768.5" font-size="21.2" textLength="9.5" lengthAdjust="spacingAndGlyphs" stroke="#fff" stroke-width="0.23">2</text>
<text x="476.5" y="789.4" font-size="21.2" textLength="8.0" lengthAdjust="spacingAndGlyphs" stroke="#fff" stroke-width="0.23">1</text>
<rect x="447.4" y="840.3" width="22.8" height="50.2" fill="#fff" stroke="#000" stroke-width="2.9" />
<circle cx="458.79999999999995" cy="848.4" r="5.8" fill="#000" stroke="#000" stroke-width="1"/>
<circle cx="458.79999999999995" cy="865.9" r="5.8" fill="#000" stroke="#000" stroke-width="1"/>
<circle cx="458.79999999999995" cy="882.2" r="4.25" fill="#fff" stroke="#000" stroke-width="2.6"/>
<text x="448.2" y="835.2" font-size="21.7" textLength="20.0" lengthAdjust="spacingAndGlyphs" stroke="#fff" stroke-width="0.24">J2</text>
<text x="476" y="852" font-size="21.2" textLength="10" lengthAdjust="spacingAndGlyphs" stroke="#fff" stroke-width="0.23">3</text>
<text x="476" y="871.8" font-size="21.2" textLength="10" lengthAdjust="spacingAndGlyphs" stroke="#fff" stroke-width="0.23">2</text>
<text x="477.5" y="893.7" font-size="21.2" textLength="8.5" lengthAdjust="spacingAndGlyphs" stroke="#fff" stroke-width="0.23">1</text>
<rect x="451.3" y="937.1" width="22.5" height="49.9" fill="#fff" stroke="#000" stroke-width="2.9" />
<circle cx="462.55" cy="944.8" r="5.8" fill="#000" stroke="#000" stroke-width="1"/>
<circle cx="462.55" cy="962.7" r="5.8" fill="#000" stroke="#000" stroke-width="1"/>
<circle cx="462.55" cy="978.7" r="4.25" fill="#fff" stroke="#000" stroke-width="2.6"/>
<text x="449.2" y="928.5" font-size="21.7" textLength="20.0" lengthAdjust="spacingAndGlyphs" stroke="#fff" stroke-width="0.24">J3</text>
<text x="479" y="948.4" font-size="21.2" textLength="10" lengthAdjust="spacingAndGlyphs" stroke="#fff" stroke-width="0.23">3</text>
<text x="479" y="968.3" font-size="21.2" textLength="10" lengthAdjust="spacingAndGlyphs" stroke="#fff" stroke-width="0.23">2</text>
<text x="480.5" y="989.6" font-size="21.2" textLength="8.5" lengthAdjust="spacingAndGlyphs" stroke="#fff" stroke-width="0.23">1</text>
<rect x="453.3" y="1037.5" width="22.9" height="50.3" fill="#fff" stroke="#000" stroke-width="2.9" />
<circle cx="464.75" cy="1045.6" r="5.8" fill="#000" stroke="#000" stroke-width="1"/>
<circle cx="464.75" cy="1063.5" r="5.8" fill="#000" stroke="#000" stroke-width="1"/>
<circle cx="464.75" cy="1079.5" r="4.25" fill="#fff" stroke="#000" stroke-width="2.6"/>
<text x="451.2" y="1026.7" font-size="31.8" textLength="26.0" lengthAdjust="spacingAndGlyphs" stroke="#fff" stroke-width="0.35">J4</text>
<text x="482" y="1052.6" font-size="21.2" textLength="10" lengthAdjust="spacingAndGlyphs" stroke="#fff" stroke-width="0.23">3</text>
<text x="482" y="1073" font-size="21.2" textLength="10" lengthAdjust="spacingAndGlyphs" stroke="#fff" stroke-width="0.23">2</text>
<text x="483.5" y="1094" font-size="21.2" textLength="8.5" lengthAdjust="spacingAndGlyphs" stroke="#fff" stroke-width="0.23">1</text>
<text x="516.7" y="726.8" font-size="25.2" textLength="132.1" lengthAdjust="spacingAndGlyphs" stroke="#fff" stroke-width="0.28">Перемычка 2–3</text>
<text x="521.0" y="763.5" font-size="22.1" textLength="127.2" lengthAdjust="spacingAndGlyphs" stroke="#fff" stroke-width="0.24">(по умолчанию):</text>
<text x="492.4" y="797" font-size="23.1" textLength="239.8" lengthAdjust="spacingAndGlyphs" stroke="#fff" stroke-width="0.25">Вход по напряжению (0–10В)</text>
<text x="531.1" y="825.6" font-size="23.1" textLength="129.3" lengthAdjust="spacingAndGlyphs" stroke="#fff" stroke-width="0.25">Перемычка 1–2:</text>
<text x="502.5" y="858.5" font-size="23.1" textLength="202.7" lengthAdjust="spacingAndGlyphs" stroke="#fff" stroke-width="0.25">Токовый вход (0–20 мА)</text>
<rect x="618.8" y="416.3" width="319.4" height="137.4" fill="none" stroke="#000" stroke-width="2.4" />
<text x="662.5" y="493.3" font-size="33.9" textLength="35.6" lengthAdjust="spacingAndGlyphs" stroke="#fff" stroke-width="0.37">PG</text>
<text x="745.7" y="464.4" font-size="32.6" textLength="168.3" lengthAdjust="spacingAndGlyphs" stroke="#fff" stroke-width="0.36">Плата PG для</text>
<text x="747.5" y="504.9" font-size="32.6" textLength="166.5" lengthAdjust="spacingAndGlyphs" stroke="#fff" stroke-width="0.36">энкодера ABZ</text>
<rect x="618.8" y="611" width="120.1" height="83.9" fill="none" stroke="#000" stroke-width="2.5" />
<text x="628.9" y="662.2" font-size="31.8" textLength="89.8" lengthAdjust="spacingAndGlyphs" stroke="#fff" stroke-width="0.35">RS–485</text>
<polyline points="746,626.2 767.6,626.2 767.6,610.7 801.5,610.7" fill="none" stroke="#000" stroke-width="2.7" />
<polyline points="746,646.7 767.6,646.7 767.6,658.9 801.5,658.9" fill="none" stroke="#000" stroke-width="2.7" />
<polyline points="812.4,610.7 829.2,610.7 829.2,621.4" fill="none" stroke="#000" stroke-width="2.7" />
<polyline points="812.4,658.9 829.2,658.9 829.2,648.5" fill="none" stroke="#000" stroke-width="2.7" />
<rect x="820.6" y="621.8" width="16.8" height="26.3" fill="#fff" stroke="#000" stroke-width="2.4" />
<polygon points="731.9,625.7 738.9,620.0 745.9,625.7 738.9,631.4000000000001" fill="none" stroke="#000" stroke-width="2.6" />
<polygon points="731.9,646.2 738.9,640.5 745.9,646.2 738.9,651.9000000000001" fill="none" stroke="#000" stroke-width="2.6" />
<polygon points="731.9,666 738.9,660.3 745.9,666 738.9,671.7" fill="none" stroke="#000" stroke-width="2.6" />
<polygon points="731.9,684 738.9,678.3 745.9,684 738.9,689.7" fill="none" stroke="#000" stroke-width="2.6" />
<text x="771.1" y="602.9" font-size="21.2" textLength="31.1" lengthAdjust="spacingAndGlyphs" stroke="#fff" stroke-width="0.23">RS+</text>
<text x="771.1" y="652.3" font-size="21.2" textLength="31.6" lengthAdjust="spacingAndGlyphs" stroke="#fff" stroke-width="0.23">RS–</text>
<text x="842.7" y="644.2" font-size="21.0" textLength="129.1" lengthAdjust="spacingAndGlyphs" stroke="#fff" stroke-width="0.23">120  Ом, 0,5 Вт</text>
<text x="748.3" y="677.6" font-size="21.0" textLength="105.8" lengthAdjust="spacingAndGlyphs" stroke="#fff" stroke-width="0.23">+5V (100 мА)</text>
<text x="749.6" y="699.1" font-size="20.7" textLength="35.4" lengthAdjust="spacingAndGlyphs" stroke="#fff" stroke-width="0.23">COM</text>
<text x="816.5" y="758" font-size="22.1" textLength="185.6" lengthAdjust="spacingAndGlyphs" stroke="#fff" stroke-width="0.24">Открытый коллектор</text>
<text x="837.4" y="791.1" font-size="22.1" textLength="107.2" lengthAdjust="spacingAndGlyphs" stroke="#fff" stroke-width="0.24">NPN – выход</text>
<text x="816.5" y="824.4" font-size="22.1" textLength="143.0" lengthAdjust="spacingAndGlyphs" stroke="#fff" stroke-width="0.24">0–24 В/0–50 мА</text>
<text x="854.5" y="908" font-size="22.1" textLength="127.5" lengthAdjust="spacingAndGlyphs" stroke="#fff" stroke-width="0.24">Транзисторные</text>
<text x="873.5" y="941" font-size="22.1" textLength="101.0" lengthAdjust="spacingAndGlyphs" stroke="#fff" stroke-width="0.24">дискретные</text>
<text x="851.8" y="976.3" font-size="22.1" textLength="149.2" lengthAdjust="spacingAndGlyphs" stroke="#fff" stroke-width="0.24">программируемые</text>
<text x="887.8" y="1007.5" font-size="22.1" textLength="62.2" lengthAdjust="spacingAndGlyphs" stroke="#fff" stroke-width="0.24">выходы</text>
<text x="767.7" y="1087.8" font-size="22.1" textLength="222.5" lengthAdjust="spacingAndGlyphs" stroke="#fff" stroke-width="0.24">Релейный програмируевый</text>
<text x="832.0" y="1120.4" font-size="22.1" textLength="50.8" lengthAdjust="spacingAndGlyphs" stroke="#fff" stroke-width="0.24">выход</text>
<rect x="570.4" y="886.9" width="75.8" height="52.7" fill="#fff" stroke="#000" stroke-width="3" />
<polyline points="570.4,898.8 585,898.8 585,927.1999999999999 570.4,927.1999999999999" fill="none" stroke="#111" stroke-width="1.1" />
<polygon points="579,908.5 591,908.5 585,915.5" fill="none" stroke="#111" stroke-width="1.1" />
<line x1="579" y1="915.5" x2="591" y2="915.5" stroke="#111" stroke-width="1.1" />
<line x1="594.8" y1="908.5" x2="603" y2="908.5" stroke="#111" stroke-width="1.1" />
<polygon points="602,907.3 605.6,908.5 602,909.7" fill="#111" stroke="#111" stroke-width="0.6" />
<line x1="594.8" y1="915.5" x2="603" y2="915.5" stroke="#111" stroke-width="1.1" />
<polygon points="602,914.3 605.6,915.5 602,916.7" fill="#111" stroke="#111" stroke-width="0.6" />
<line x1="611.9" y1="901.0" x2="611.9" y2="916.0999999999999" stroke="#111" stroke-width="1.5" />
<polyline points="611.9,907.3 625.2,902.1999999999999 625.2,898.8 646.2,898.8" fill="none" stroke="#111" stroke-width="1.1" />
<polyline points="611.9,911.0 617.6,916.0999999999999 622.7,916.0999999999999" fill="none" stroke="#111" stroke-width="1.1" />
<line x1="622.7" y1="910.4" x2="622.7" y2="923.0999999999999" stroke="#111" stroke-width="1.5" />
<polyline points="622.7,916.0 634,911.6999999999999 634.3,898.8" fill="none" stroke="#111" stroke-width="1.1" />
<polyline points="622.7,918.0 629,923.6999999999999 629,927.1999999999999 646.2,927.1999999999999" fill="none" stroke="#111" stroke-width="1.1" />
<circle cx="634.6" cy="898.8" r="2.6" fill="#000" stroke="#000" stroke-width="0.5"/>
<line x1="646.2" y1="898.8" x2="738.9" y2="898.8" stroke="#000" stroke-width="2.5" />
<line x1="646.2" y1="927.4999999999999" x2="738.9" y2="927.4999999999999" stroke="#000" stroke-width="2.5" />
<line x1="667.4" y1="898.8" x2="667.4" y2="927.1999999999999" stroke="#000" stroke-width="2.5" />
<circle cx="667.4" cy="898.8" r="2.6" fill="#000" stroke="#000" stroke-width="0.5"/>
<circle cx="667.4" cy="927.4999999999999" r="2.6" fill="#000" stroke="#000" stroke-width="0.5"/>
<polygon points="660.2,919.0 674.6,919.0 667.4,911.0" fill="#fff" stroke="#000" stroke-width="2.4" />
<line x1="659.3" y1="909.8" x2="675.5" y2="909.8" stroke="#000" stroke-width="2.6" />
<rect x="570.4" y="950.2" width="75.8" height="52.7" fill="#fff" stroke="#000" stroke-width="3" />
<polyline points="570.4,962.1 585,962.1 585,990.5 570.4,990.5" fill="none" stroke="#111" stroke-width="1.1" />
<polygon points="579,971.8000000000001 591,971.8000000000001 585,978.8000000000001" fill="none" stroke="#111" stroke-width="1.1" />
<line x1="579" y1="978.8000000000001" x2="591" y2="978.8000000000001" stroke="#111" stroke-width="1.1" />
<line x1="594.8" y1="971.8000000000001" x2="603" y2="971.8000000000001" stroke="#111" stroke-width="1.1" />
<polygon points="602,970.6 605.6,971.8000000000001 602,973.0000000000001" fill="#111" stroke="#111" stroke-width="0.6" />
<line x1="594.8" y1="978.8000000000001" x2="603" y2="978.8000000000001" stroke="#111" stroke-width="1.1" />
<polygon points="602,977.6 605.6,978.8000000000001 602,980.0000000000001" fill="#111" stroke="#111" stroke-width="0.6" />
<line x1="611.9" y1="964.3000000000001" x2="611.9" y2="979.4" stroke="#111" stroke-width="1.5" />
<polyline points="611.9,970.6 625.2,965.5 625.2,962.1 646.2,962.1" fill="none" stroke="#111" stroke-width="1.1" />
<polyline points="611.9,974.3000000000001 617.6,979.4 622.7,979.4" fill="none" stroke="#111" stroke-width="1.1" />
<line x1="622.7" y1="973.7" x2="622.7" y2="986.4" stroke="#111" stroke-width="1.5" />
<polyline points="622.7,979.3000000000001 634,975.0 634.3,962.1" fill="none" stroke="#111" stroke-width="1.1" />
<polyline points="622.7,981.3000000000001 629,987.0 629,990.5 646.2,990.5" fill="none" stroke="#111" stroke-width="1.1" />
<circle cx="634.6" cy="962.1" r="2.6" fill="#000" stroke="#000" stroke-width="0.5"/>
<line x1="646.2" y1="962.1" x2="738.9" y2="962.1" stroke="#000" stroke-width="2.5" />
<line x1="646.2" y1="990.8" x2="738.9" y2="990.8" stroke="#000" stroke-width="2.5" />
<line x1="667.4" y1="962.1" x2="667.4" y2="990.5" stroke="#000" stroke-width="2.5" />
<circle cx="667.4" cy="962.1" r="2.6" fill="#000" stroke="#000" stroke-width="0.5"/>
<circle cx="667.4" cy="990.8" r="2.6" fill="#000" stroke="#000" stroke-width="0.5"/>
<polygon points="660.2,982.3000000000001 674.6,982.3000000000001 667.4,974.3000000000001" fill="#fff" stroke="#000" stroke-width="2.4" />
<line x1="659.3" y1="973.1" x2="675.5" y2="973.1" stroke="#000" stroke-width="2.6" />
<polygon points="730.9,898.8 738.9,892.8 746.9,898.8 738.9,904.8" fill="#fff" stroke="#000" stroke-width="2.6" />
<polygon points="730.9,927.4999999999999 738.9,921.4999999999999 746.9,927.4999999999999 738.9,933.4999999999999" fill="#fff" stroke="#000" stroke-width="2.6" />
<polygon points="730.9,962.1 738.9,956.1 746.9,962.1 738.9,968.1" fill="#fff" stroke="#000" stroke-width="2.6" />
<polygon points="730.9,990.8 738.9,984.8 746.9,990.8 738.9,996.8" fill="#fff" stroke="#000" stroke-width="2.6" />
<text x="686.2" y="891.5" font-size="31.1" textLength="37.6" lengthAdjust="spacingAndGlyphs" stroke="#fff" stroke-width="0.34">FM</text>
<text x="679.7" y="925.1" font-size="31.8" textLength="51.4" lengthAdjust="spacingAndGlyphs" stroke="#fff" stroke-width="0.35">COM</text>
<text x="679.7" y="957" font-size="32.1" textLength="44.4" lengthAdjust="spacingAndGlyphs" stroke="#fff" stroke-width="0.35">DO1</text>
<text x="679.7" y="987.6" font-size="31.8" textLength="51.1" lengthAdjust="spacingAndGlyphs" stroke="#fff" stroke-width="0.35">COM</text>
<text x="753.5" y="924" font-size="32.1" textLength="47.0" lengthAdjust="spacingAndGlyphs" stroke="#fff" stroke-width="0.35">DO1</text>
<text x="756.5" y="986.3" font-size="32.1" textLength="49.2" lengthAdjust="spacingAndGlyphs" stroke="#fff" stroke-width="0.35">DO2</text>
<polyline points="805,894.2 821.7,894.2 821.7,994.7 799.5,994.7" fill="none" stroke="#000" stroke-width="2.9" />
<line x1="821.7" y1="939.3" x2="836.5" y2="939.3" stroke="#000" stroke-width="2.9" />
<polyline points="548.1,1050.5 548.1,1128.1 738.9,1128.1" fill="none" stroke="#000" stroke-width="2.9" />
<polyline points="548.1,1050.5 576.6,1050.5 592.9,1038.3" fill="none" stroke="#000" stroke-width="2.9" />
<line x1="598.3" y1="1051.8" x2="738.9" y2="1051.8" stroke="#000" stroke-width="2.9" />
<polyline points="548.1,1089 576.6,1089 597,1077 597,1087 738.9,1087" fill="none" stroke="#000" stroke-width="2.9" />
<polygon points="729.9,1051.5 738.9,1044.3 747.9,1051.5 738.9,1058.7" fill="#fff" stroke="#000" stroke-width="2.8" />
<polygon points="729.9,1086.7 738.9,1079.5 747.9,1086.7 738.9,1093.9" fill="#fff" stroke="#000" stroke-width="2.8" />
<polygon points="729.9,1128 738.9,1120.8 747.9,1128 738.9,1135.2" fill="#fff" stroke="#000" stroke-width="2.8" />
<text x="672.2" y="1046.4" font-size="32.9" textLength="47.0" lengthAdjust="spacingAndGlyphs" stroke="#fff" stroke-width="0.36">TA1</text>
<text x="668.7" y="1081.5" font-size="32.9" textLength="45.0" lengthAdjust="spacingAndGlyphs" stroke="#fff" stroke-width="0.36">TB1</text>
<text x="665.2" y="1121" font-size="32.9" textLength="43.2" lengthAdjust="spacingAndGlyphs" stroke="#fff" stroke-width="0.36">TC1</text>
</svg>
</body></html>
